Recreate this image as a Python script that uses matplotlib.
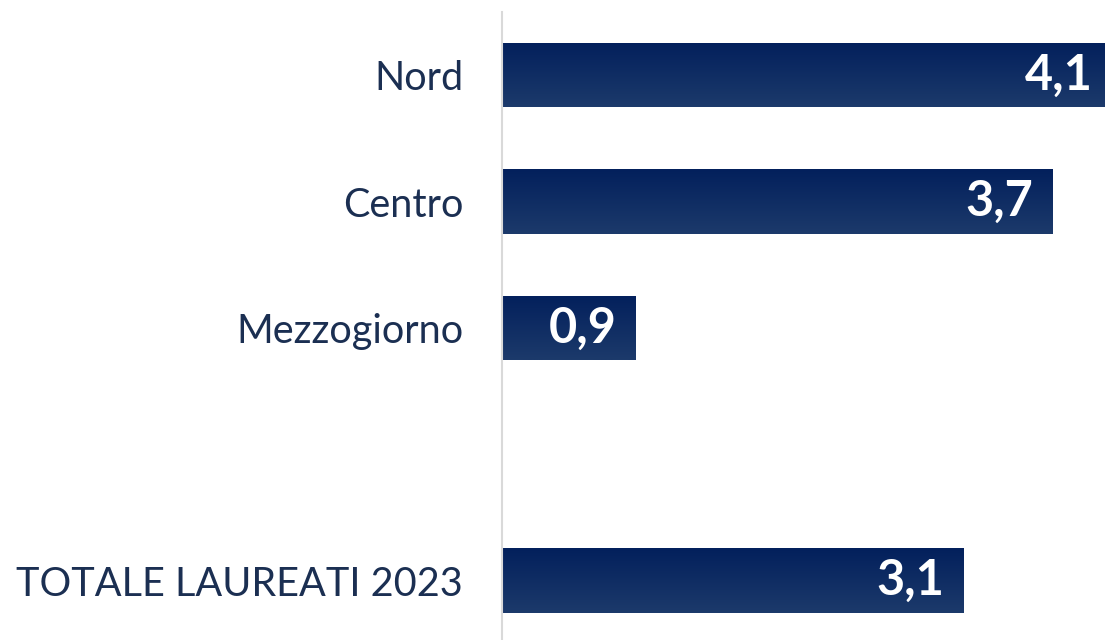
import matplotlib
matplotlib.use("Agg")
import matplotlib.pyplot as plt
import numpy as np

categories = ["Nord", "Centro", "Mezzogiorno", "TOTALE LAUREATI 2023"]
positions = [0, 1, 2, 4]
values = [4.1, 3.7, 0.9, 3.1]
value_labels = ["4,1", "3,7", "0,9", "3,1"]

TOP = "#03205c"
BOTTOM = "#1c3a6b"
TEXT = "#1b2f52"

plt.rcParams["font.family"] = ["Lato", "DejaVu Sans"]

fig = plt.figure(figsize=(11.05, 6.4), dpi=100)
ax = fig.add_axes([502 / 1105, 0, 603 / 1105, 628 / 640])

bars = ax.barh(positions, values, height=0.51, color=BOTTOM, edgecolor="none")
ax.set_xlim(0, 4.05)
ax.set_ylim(4.47, -0.5)

# vertical gradient inside each bar
grad = np.linspace(0, 1, 64).reshape(-1, 1)
cmap = matplotlib.colors.LinearSegmentedColormap.from_list("navy", [TOP, BOTTOM])
for b in bars:
    x0, y0 = b.get_x(), b.get_y()
    im = ax.imshow(grad, cmap=cmap, aspect="auto",
                   extent=(x0, x0 + b.get_width(), y0 + b.get_height(), y0),
                   origin="upper", zorder=2)
    im.set_clip_path(b)

for p, v, lab in zip(positions, values, value_labels):
    ax.annotate(lab, (v, p), xytext=(-14, 0), textcoords="offset points",
                ha="right", va="center", color="white", fontsize=35,
                fontweight="bold", zorder=3, annotation_clip=False)

ax.set_yticks(positions)
ax.set_yticklabels(categories, fontsize=28.5, color=TEXT)
ax.tick_params(axis="y", length=0, pad=28)
ax.set_xticks([])
for side in ["top", "right", "bottom"]:
    ax.spines[side].set_visible(False)
ax.spines["left"].set_color("#d9d9d9")
ax.spines["left"].set_linewidth(1.5)
ax.spines["left"].set_zorder(4)

fig.savefig("out.png", dpi=100)
